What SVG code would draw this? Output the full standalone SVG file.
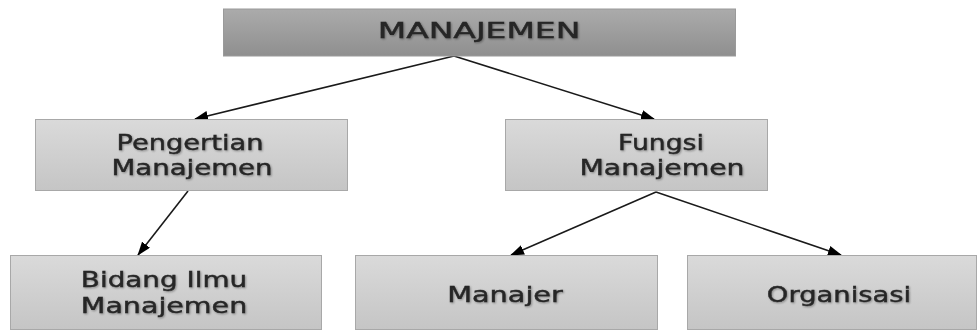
<svg xmlns="http://www.w3.org/2000/svg" width="980" height="332" viewBox="0 0 980 332">
<defs>
<linearGradient id="gTop" x1="0" y1="0" x2="0" y2="1">
<stop offset="0" stop-color="#ababab"/>
<stop offset="1" stop-color="#8f8f8f"/>
</linearGradient>
<linearGradient id="gBox" x1="0" y1="0" x2="0" y2="1">
<stop offset="0" stop-color="#dadada"/>
<stop offset="1" stop-color="#c5c5c5"/>
</linearGradient>
<marker id="arr" viewBox="0 0 14 10" refX="13" refY="5" markerWidth="14" markerHeight="10" markerUnits="userSpaceOnUse" orient="auto">
<path d="M0,0 L14,5 L0,10 z" fill="#000"/>
</marker>
<filter id="sh" x="-10%" y="-30%" width="120%" height="160%">
<feGaussianBlur in="SourceAlpha" stdDeviation="1"/>
<feOffset dx="1" dy="1" result="b"/>
<feComponentTransfer><feFuncA type="linear" slope="0.35"/></feComponentTransfer>
<feMerge><feMergeNode/><feMergeNode in="SourceGraphic"/></feMerge>
</filter>
</defs>
<style>
.top{fill:url(#gTop);stroke:#9a9a9a;stroke-width:1}
.box{fill:url(#gBox);stroke:#a8a8a8;stroke-width:1}
text{font-family:"DejaVu Sans","Liberation Sans",sans-serif;font-size:21px;fill:#262626;stroke:#262626;stroke-width:0.4;text-anchor:middle;filter:url(#sh)}
.c{stroke:#1a1a1a;stroke-width:1.6;fill:none;marker-end:url(#arr)}
</style>
<rect width="980" height="332" fill="#fff"/>
<g id="connectors">
<line class="c" x1="454" y1="56" x2="195" y2="119"/>
<line class="c" x1="454" y1="56" x2="654" y2="119"/>
<line class="c" x1="188" y1="191" x2="138" y2="255"/>
<line class="c" x1="656" y1="192" x2="511" y2="255"/>
<line class="c" x1="656" y1="192" x2="841" y2="255"/>
</g>
<g id="n-manajemen">
<rect class="top" x="223.5" y="9" width="512" height="47"/>
<text transform="translate(479,38) scale(1.25,1)" textLength="162" lengthAdjust="spacingAndGlyphs">MANAJEMEN</text>
</g>
<g id="n-pengertian">
<rect class="box" x="35.5" y="119.5" width="312" height="71"/>
<text transform="translate(190,150) scale(1.3,1)" textLength="113" lengthAdjust="spacingAndGlyphs">Pengertian</text>
<text transform="translate(192,175) scale(1.3,1)" textLength="124" lengthAdjust="spacingAndGlyphs">Manajemen</text>
</g>
<g id="n-fungsi">
<rect class="box" x="505.5" y="119.5" width="262" height="71"/>
<text transform="translate(661,150) scale(1.3,1)" textLength="66" lengthAdjust="spacingAndGlyphs">Fungsi</text>
<text transform="translate(662,175) scale(1.3,1)" textLength="127" lengthAdjust="spacingAndGlyphs">Manajemen</text>
</g>
<g id="n-bidang">
<rect class="box" x="10.5" y="255.5" width="311" height="74"/>
<text transform="translate(164,287) scale(1.3,1)" textLength="128" lengthAdjust="spacingAndGlyphs">Bidang Ilmu</text>
<text transform="translate(164,313) scale(1.3,1)" textLength="128" lengthAdjust="spacingAndGlyphs">Manajemen</text>
</g>
<g id="n-manajer">
<rect class="box" x="355.5" y="255.5" width="302" height="74"/>
<text transform="translate(505,302) scale(1.3,1)" textLength="89" lengthAdjust="spacingAndGlyphs">Manajer</text>
</g>
<g id="n-organisasi">
<rect class="box" x="687.5" y="255.5" width="289" height="74"/>
<text transform="translate(839,302) scale(1.3,1)" textLength="111" lengthAdjust="spacingAndGlyphs">Organisasi</text>
</g>
</svg>
